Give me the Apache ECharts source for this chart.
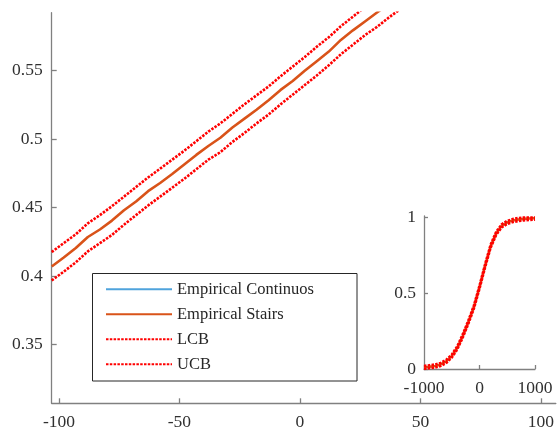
<!DOCTYPE html>
<html>
<head>
<meta charset="utf-8">
<script src="https://cdn.jsdelivr.net/npm/echarts@6/dist/echarts.min.js"></script>
<style>
html,body{margin:0;padding:0;background:#fff;overflow:hidden}
#c{width:557px;height:432px}
#fontwarm{position:absolute;left:0;top:0;visibility:hidden;font-family:'Liberation Serif';font-size:17.5px}
</style>
</head>
<body>
<div id="c"></div><div id="fontwarm">0.5</div>
<script>
// ---- main (zoomed) view data ----
var mainX   = [-103,-98,-93,-88,-83,-78,-73,-68,-63,-58,-53,-48,-43,-38,-33,-28,-23,-18,-13,-8,-3,2,7,12,17,22,27,32,37,42];
var stairsY = [0.4070,0.4135,0.4205,0.4285,0.4340,0.4405,0.4480,0.4545,0.4620,0.4680,0.4745,0.4815,0.4885,0.4950,0.5010,0.5085,0.5150,0.5215,0.5285,0.5360,0.5425,0.5500,0.5570,0.5640,0.5725,0.5795,0.5860,0.5925,0.5990,0.6060];
var ucbY    = [0.4175,0.4240,0.4305,0.4385,0.4445,0.4510,0.4580,0.4650,0.4720,0.4785,0.4850,0.4915,0.4985,0.5055,0.5115,0.5185,0.5255,0.5320,0.5385,0.5460,0.5530,0.5600,0.5675,0.5745,0.5825,0.5895,0.5965,0.6030,0.6095,0.6160];
var lcbY    = [0.3968,0.4032,0.4100,0.4180,0.4240,0.4300,0.4375,0.4445,0.4515,0.4580,0.4645,0.4710,0.4780,0.4850,0.4905,0.4980,0.5045,0.5115,0.5180,0.5255,0.5325,0.5395,0.5465,0.5540,0.5620,0.5690,0.5760,0.5820,0.5890,0.5955];
var mainXTicks = [-100,-50,0,50,100];
var mainYTicks = [0.35,0.4,0.45,0.5,0.55];

// ---- inset (full) view data ----
var insetX    = [-1000,-900,-800,-700,-600,-500,-400,-300,-200,-100,0,100,200,300,400,500,600,700,800,900,1000];
var insetEmp  = [0.010,0.015,0.020,0.030,0.050,0.085,0.140,0.220,0.310,0.410,0.540,0.680,0.810,0.895,0.945,0.968,0.980,0.987,0.991,0.994,0.996];
var insetUCB  = [0.020,0.025,0.030,0.040,0.060,0.095,0.150,0.230,0.320,0.420,0.550,0.690,0.820,0.905,0.955,0.978,0.990,0.997,1.000,1.000,1.000];
var insetLCB  = [0.000,0.005,0.010,0.020,0.040,0.075,0.130,0.210,0.300,0.400,0.530,0.670,0.800,0.885,0.935,0.958,0.970,0.977,0.981,0.984,0.986];
var insetXTicks = [-1000,0,1000];
var insetYTicks = [0,0.5,1];

var names = ['Empirical Continuos','Empirical Stairs','LCB','UCB'];

function pairs(xs, ys){ return xs.map(function(x,i){ return [x, ys[i]]; }); }

var FONT = "'Liberation Serif','Times New Roman',serif";
var AX = '#808080';
var TXT = '#303030';
function fmt(v){ return String(v); }

function axis(gridIndex, min, max, ticks, margin, tickLen){
  return {
    type:'value', gridIndex:gridIndex, min:min, max:max,
    axisLine:{show:true, onZero:false, lineStyle:{color:AX, width:1.3}},
    axisTick:{show:true, inside:true, length:tickLen, customValues:ticks, lineStyle:{color:AX, width:1.3}},
    axisLabel:{customValues:ticks, formatter:fmt, fontFamily:FONT, fontSize:17.5, color:TXT, margin:margin,
               showMinLabel:true, showMaxLabel:true, hideOverlap:false},
    splitLine:{show:false}
  };
}

var RED = '#ff0000', ORANGE = '#D95319', BLUE = '#4FA3DC';
var dash = [2.5,1.3];

var option = {
  animation:false,
  backgroundColor:'#fff',
  grid:[{left:51.7, top:12.7, right:0, bottom:28.7},{left:424, top:216, right:22, bottom:63}],
  xAxis:[axis(0,-103,106.2,mainXTicks,10,5), axis(1,-1000,1000,insetXTicks,10,4)],
  yAxis:[axis(0,0.307,0.5924,mainYTicks,9,5), axis(1,0,1.01,insetYTicks,8,4)],
  legend:{
    data:names, orient:'vertical', left:105, top:280.3, padding:0,
    itemWidth:66, itemHeight:14, itemGap:7,
    itemStyle:{opacity:0},
    textStyle:{fontFamily:FONT, fontSize:16.5, color:'#262626', lineHeight:18},
    selectedMode:false
  },
  graphic:[{type:'rect', z:3, shape:{x:92.5, y:273.5, width:264.5, height:107.5}, style:{fill:'#fff', stroke:'#262626', lineWidth:1}}],
  series:[
    {name:names[0], type:'line', xAxisIndex:0, yAxisIndex:0, data:pairs(mainX, stairsY), symbol:'none', lineStyle:{color:BLUE, width:1}, itemStyle:{color:BLUE}},
    {name:names[1], type:'line', xAxisIndex:0, yAxisIndex:0, data:pairs(mainX, stairsY), symbol:'none', lineStyle:{color:ORANGE, width:2.6}, itemStyle:{color:ORANGE}},
    {name:names[2], type:'line', xAxisIndex:0, yAxisIndex:0, data:pairs(mainX, lcbY), symbol:'none', lineStyle:{color:RED, width:2.6, type:dash}, itemStyle:{color:RED}},
    {name:names[3], type:'line', xAxisIndex:0, yAxisIndex:0, data:pairs(mainX, ucbY), symbol:'none', lineStyle:{color:RED, width:2.6, type:dash}, itemStyle:{color:RED}},
    {name:names[0], type:'line', xAxisIndex:1, yAxisIndex:1, data:pairs(insetX, insetEmp), symbol:'none', lineStyle:{color:BLUE, width:1}, itemStyle:{color:BLUE}},
    {name:names[1], type:'line', xAxisIndex:1, yAxisIndex:1, data:pairs(insetX, insetEmp), symbol:'none', lineStyle:{color:ORANGE, width:2.6}, itemStyle:{color:ORANGE}},
    {name:names[2], type:'line', xAxisIndex:1, yAxisIndex:1, data:pairs(insetX, insetLCB), symbol:'none', lineStyle:{color:RED, width:2.6, type:dash}, itemStyle:{color:RED}},
    {name:names[3], type:'line', xAxisIndex:1, yAxisIndex:1, data:pairs(insetX, insetUCB), symbol:'none', lineStyle:{color:RED, width:2.6, type:dash}, itemStyle:{color:RED}}
  ]
};

var chart = echarts.init(document.getElementById('c'), null, {renderer:'canvas'});
function render(){ chart.setOption(option, true); }
render();
// re-render once the serif font is surely ready, so label measurement is exact
if (document.fonts && document.fonts.ready) { document.fonts.ready.then(render); }
setTimeout(render, 60);
</script>
</body>
</html>
